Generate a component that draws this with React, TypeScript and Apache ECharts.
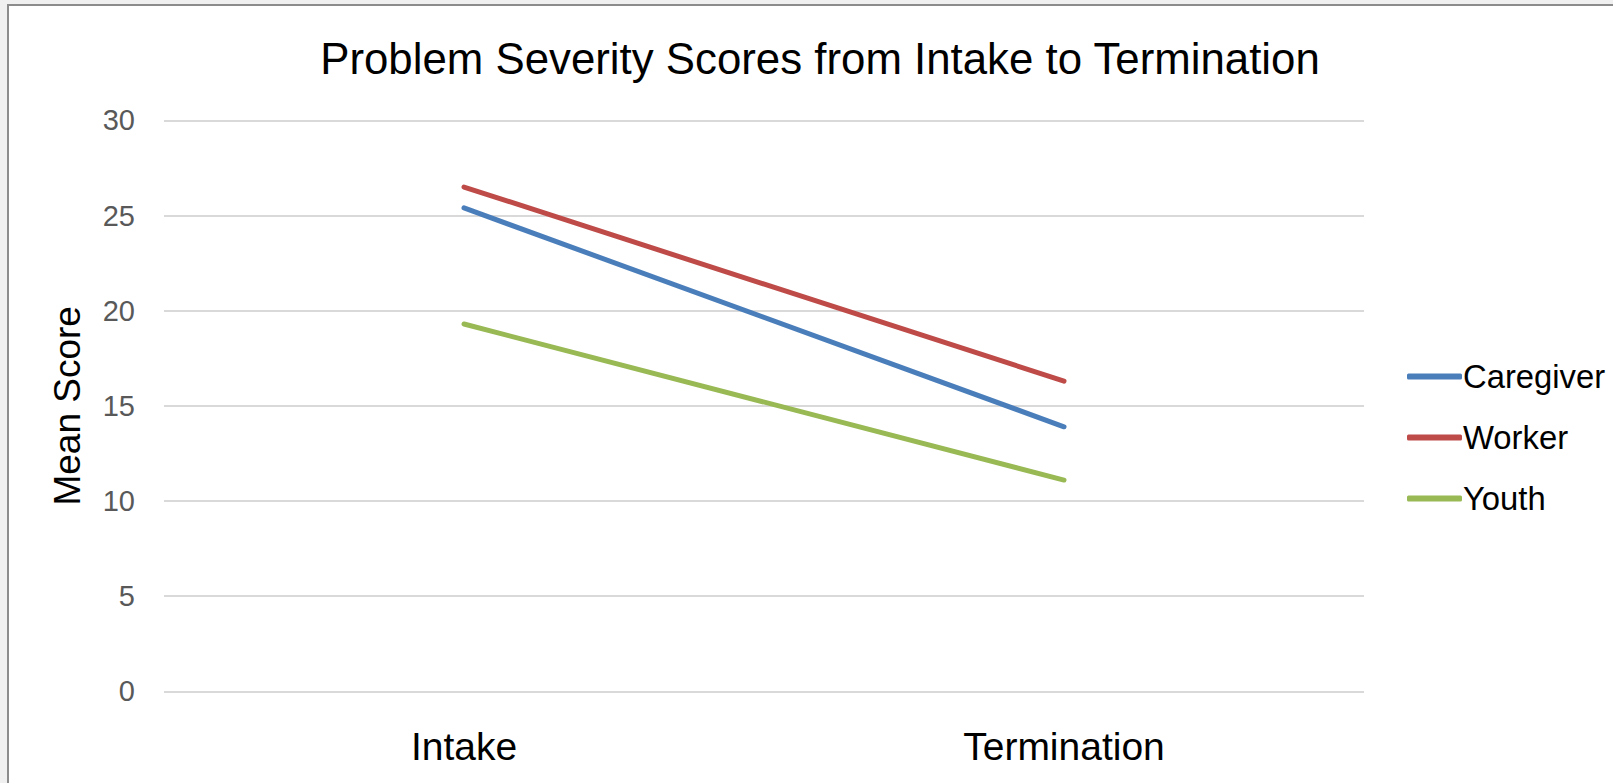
import React, { useEffect, useRef } from "react";
import * as echarts from "echarts";

const categories = ["Intake", "Termination"];
const seriesNames = ["Caregiver", "Worker", "Youth"];
const caregiver = [25.4, 13.9];
const worker = [26.5, 16.3];
const youth = [19.3, 11.1];
const yTicks = { min: 0, max: 30, interval: 5 };

const colors = ["#4A7EBB", "#BE4B48", "#98B954"];
const FONT = "Liberation Sans";

export default function App() {
  const ref = useRef<HTMLDivElement>(null);
  useEffect(() => {
    if (!ref.current) return;
    const chart = echarts.init(ref.current, undefined, { renderer: "svg" });
    const data = [caregiver, worker, youth];
    chart.setOption({
      animation: false,
      backgroundColor: "#f0f0f0",
      graphic: [
        {
          type: "rect",
          z: -10,
          silent: true,
          shape: { x: 8, y: 5, width: 1640, height: 800 },
          style: { fill: "#ffffff", stroke: "#8c8c8c", lineWidth: 2 },
        },
      ],
      title: {
        text: "Problem Severity Scores from Intake to Termination",
        left: 815,
        textAlign: "center",
        top: 31,
        textStyle: { fontFamily: FONT, fontSize: 43.8, fontWeight: "normal", color: "#000000" },
      },
      legend: {
        orient: "vertical",
        left: 1402,
        top: 355,
        itemWidth: 55,
        itemHeight: 6,
        itemGap: 28,
        icon: "roundRect",
        textStyle: { fontFamily: FONT, fontSize: 32.8, color: "#000000", padding: [0, 0, 0, -4] },
        data: seriesNames,
      },
      grid: { left: 164, right: 249, top: 120.4, bottom: 91.7, containLabel: false },
      xAxis: {
        type: "category",
        data: categories,
        boundaryGap: true,
        axisLine: { show: false },
        axisTick: { show: false },
        axisLabel: { fontFamily: FONT, fontSize: 39, color: "#000000", margin: 36 },
      },
      yAxis: {
        type: "value",
        min: yTicks.min,
        max: yTicks.max,
        interval: yTicks.interval,
        name: "Mean Score",
        nameLocation: "middle",
        nameGap: 78,
        nameTextStyle: { fontFamily: FONT, fontSize: 37, color: "#000000" },
        axisLine: { show: false },
        axisTick: { show: false },
        axisLabel: { fontFamily: FONT, fontSize: 29, color: "#595959", margin: 29 },
        splitLine: { lineStyle: { color: "#d9d9d9", width: 2 } },
      },
      series: seriesNames.map((name, i) => ({
        name,
        type: "line",
        data: data[i],
        symbol: "none",
        color: colors[i],
        lineStyle: { width: 5, color: colors[i], cap: "round" },
      })),
    });
    return () => chart.dispose();
  }, []);
  return (
    <div
      ref={ref}
      style={{ position: "fixed", left: 0, top: 0, width: 1613, height: 783 }}
    />
  );
}
